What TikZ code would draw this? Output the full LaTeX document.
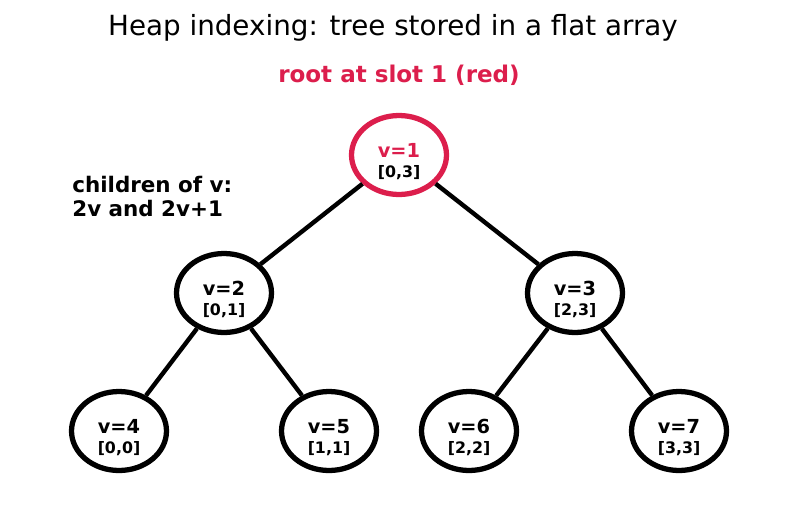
\documentclass[tikz,border=0pt]{standalone}
\usepackage{fontspec}
\setmainfont{DejaVu Sans}
\usetikzlibrary{shapes.geometric}
\usetikzlibrary{calc}
\definecolor{rootred}{HTML}{DC1E4C}

\begin{document}
\begin{tikzpicture}[x=0.02cm, y=-0.02cm,
    heapnode/.style={draw, ellipse, line width=3pt, minimum width=1.9cm,
      minimum height=1.58cm, inner sep=0pt},
    vtext/.style={anchor=base, inner sep=0pt, font=\fontsize{11}{12}\selectfont\bfseries},
    rangetext/.style={anchor=base, inner sep=0pt, font=\fontsize{9}{10}\selectfont\bfseries},
    edge/.style={line width=2.5pt}]
      \useasboundingbox (0,0) rectangle (787,514);

      \node [name=title, font=\fontsize{15.8}{18}\selectfont] at (393, 28)
      {Heap indexing: tree stored in a flat array};
      \node [name=sub, text=rootred, font=\fontsize{13.1}{15}\selectfont\bfseries] at (399, 75)
      {root at slot 1 (red)};
      \node [name=rule, anchor=north west, align=left, inner sep=0pt,
      font=\fontsize{12.2}{13.4}\selectfont\bfseries] at (72, 176)
      {children of v:\\2v and 2v+1};

      \coordinate (level) at (0, 138);

      \node [heapnode, draw=rootred, name=v1] at (399, 155) {};
      \node [heapnode, name=v2] at ($(224, 155) + (level)$) {};
      \node [heapnode, name=v3] at ($(575, 155) + (level)$) {};
      \node [heapnode, name=v4] at ($(119, 155) + 2*(level)$) {};
      \node [heapnode, name=v5] at ($(329, 155) + 2*(level)$) {};
      \node [heapnode, name=v6] at ($(469, 155) + 2*(level)$) {};
      \node [heapnode, name=v7] at ($(679, 155) + 2*(level)$) {};

      \node [vtext, text=rootred, name=v1v] at ($(v1) + (0, 2)$) {v=1};
      \node [rangetext, name=v1r] at ($(v1) + (0, 22)$) {[0,3]};
      \node [vtext, name=v2v] at ($(v2) + (0, 2)$) {v=2};
      \node [rangetext, name=v2r] at ($(v2) + (0, 22)$) {[0,1]};
      \node [vtext, name=v3v] at ($(v3) + (0, 2)$) {v=3};
      \node [rangetext, name=v3r] at ($(v3) + (0, 22)$) {[2,3]};
      \node [vtext, name=v4v] at ($(v4) + (0, 2)$) {v=4};
      \node [rangetext, name=v4r] at ($(v4) + (0, 22)$) {[0,0]};
      \node [vtext, name=v5v] at ($(v5) + (0, 2)$) {v=5};
      \node [rangetext, name=v5r] at ($(v5) + (0, 22)$) {[1,1]};
      \node [vtext, name=v6v] at ($(v6) + (0, 2)$) {v=6};
      \node [rangetext, name=v6r] at ($(v6) + (0, 22)$) {[2,2]};
      \node [vtext, name=v7v] at ($(v7) + (0, 2)$) {v=7};
      \node [rangetext, name=v7r] at ($(v7) + (0, 22)$) {[3,3]};

      \draw [edge] (v1) -- (v2);
      \draw [edge] (v1) -- (v3);
      \draw [edge] (v2) -- (v4);
      \draw [edge] (v2) -- (v5);
      \draw [edge] (v3) -- (v6);
      \draw [edge] (v3) -- (v7);
    \end{tikzpicture}
\end{document}
